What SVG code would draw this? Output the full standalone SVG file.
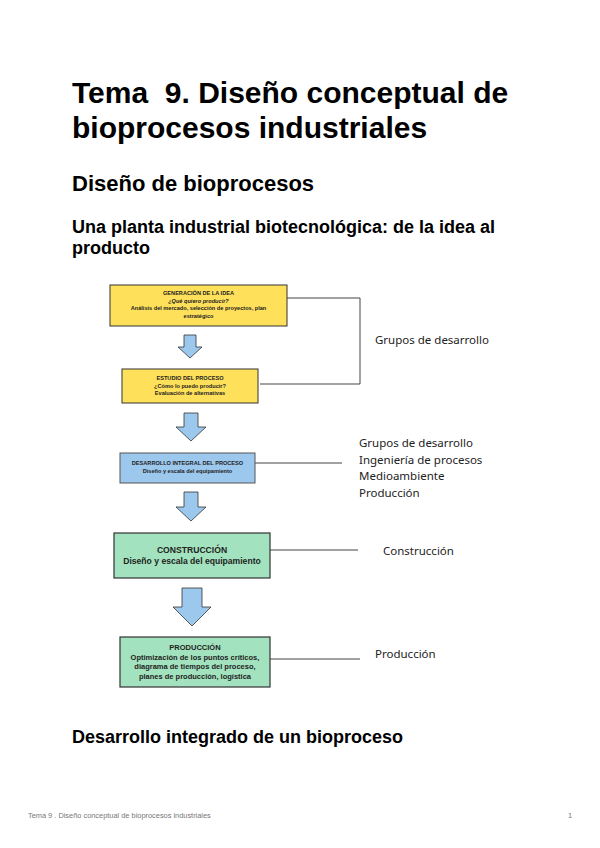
<svg xmlns="http://www.w3.org/2000/svg" width="600" height="848" viewBox="0 0 600 848">
<style>
.h{font-family:"Liberation Sans",Arial,sans-serif;font-weight:bold;fill:#000}
.bt{font-family:"Liberation Sans",Arial,sans-serif;font-weight:bold;fill:#222;text-anchor:middle}
.lbl{font-family:"Noto Sans","Liberation Sans",sans-serif;font-size:11.5px;fill:#222}
.yel{fill:#FFE05A;stroke:#333;stroke-width:1}
.blu{fill:#9DC8EE;stroke:#555;stroke-width:1}
.grn{fill:#A2E2BE;stroke:#333;stroke-width:1.2}
.arr{fill:#9DC8EE;stroke:#333;stroke-width:0.8}
.con{fill:none;stroke:#444;stroke-width:1}
.foot{font-family:"Liberation Sans",Arial,sans-serif;font-size:7.4px;fill:#777}
</style>
<rect width="600" height="848" fill="#fff"/>
<text class="h" x="72" y="103" font-size="30" xml:space="preserve">Tema  9. Diseño conceptual de</text>
<text class="h" x="72" y="138" font-size="30">bioprocesos industriales</text>
<text class="h" x="72" y="191" font-size="22">Diseño de bioprocesos</text>
<text class="h" x="72" y="233" font-size="18">Una planta industrial biotecnológica: de la idea al</text>
<text class="h" x="72" y="254" font-size="18">producto</text>

<g id="connectors">
<polyline class="con" points="287,298 360,298 360,384 260,384"/>
<line class="con" x1="255" y1="463" x2="342" y2="463"/>
<line class="con" x1="270" y1="550" x2="358" y2="550"/>
<line class="con" x1="270" y1="659" x2="360" y2="659"/>
<polygon class="arr" points="184,335 196,335 196,347 202,347 190,358 178,347 184,347"/>
<polygon class="arr" points="184,413 198,413 198,427 206,427 191,441 176,427 184,427"/>
<polygon class="arr" points="184,492 198,492 198,507 206,507 191,521 176,507 184,507"/>
<polygon class="arr" points="182,588 202,588 202,607 211,607 192,626 173,607 182,607"/>
</g>

<g id="n1">
<rect class="yel" x="110" y="285" width="177" height="41"/>
<text class="bt" x="198.5" y="295" font-size="5.6">GENERACIÓN DE LA IDEA</text>
<text class="bt" x="198.5" y="302.5" font-size="5.6" font-style="italic">¿Qué quiero producir?</text>
<text class="bt" x="198.5" y="310" font-size="5.6">Análisis del mercado, selección de proyectos, plan</text>
<text class="bt" x="198.5" y="317.5" font-size="5.6">estratégico</text>
</g>
<g id="n2">
<rect class="yel" x="122" y="369" width="136" height="34"/>
<text class="bt" x="190" y="380" font-size="5.6">ESTUDIO DEL PROCESO</text>
<text class="bt" x="190" y="387.5" font-size="5.6">¿Cómo lo puedo producir?</text>
<text class="bt" x="190" y="395" font-size="5.6">Evaluación de alternativas</text>
</g>
<g id="n3">
<rect class="blu" x="120" y="453" width="135" height="30"/>
<text class="bt" x="187.5" y="465" font-size="5.6">DESARROLLO INTEGRAL DEL PROCESO</text>
<text class="bt" x="187.5" y="473" font-size="5.6">Diseño y escala del equipamiento</text>
</g>
<g id="n4">
<rect class="grn" x="114" y="533" width="156" height="45"/>
<text class="bt" x="192" y="552.5" font-size="8.6">CONSTRUCCIÓN</text>
<text class="bt" x="192" y="563.5" font-size="8.6">Diseño y escala del equipamiento</text>
</g>
<g id="n5">
<rect class="grn" x="120" y="637" width="150" height="50"/>
<text class="bt" x="195" y="650" font-size="7.5">PRODUCCIÓN</text>
<text class="bt" x="195" y="659.5" font-size="7.5">Optimización de los puntos críticos,</text>
<text class="bt" x="195" y="669" font-size="7.5">diagrama de tiempos del proceso,</text>
<text class="bt" x="195" y="678.5" font-size="7.5">planes de producción, logística</text>
</g>

<g id="labels">
<text class="lbl" x="375" y="344">Grupos de desarrollo</text>
<text class="lbl" x="359" y="447">Grupos de desarrollo</text>
<text class="lbl" x="359" y="464">Ingeniería de procesos</text>
<text class="lbl" x="359" y="480">Medioambiente</text>
<text class="lbl" x="359" y="497">Producción</text>
<text class="lbl" x="383" y="555">Construcción</text>
<text class="lbl" x="375" y="658">Producción</text>
</g>

<text class="h" x="72" y="743" font-size="18">Desarrollo integrado de un bioproceso</text>
<text class="foot" x="28" y="818">Tema 9 . Diseño conceptual de bioprocesos industriales</text>
<text class="foot" x="568" y="818">1</text>
</svg>
